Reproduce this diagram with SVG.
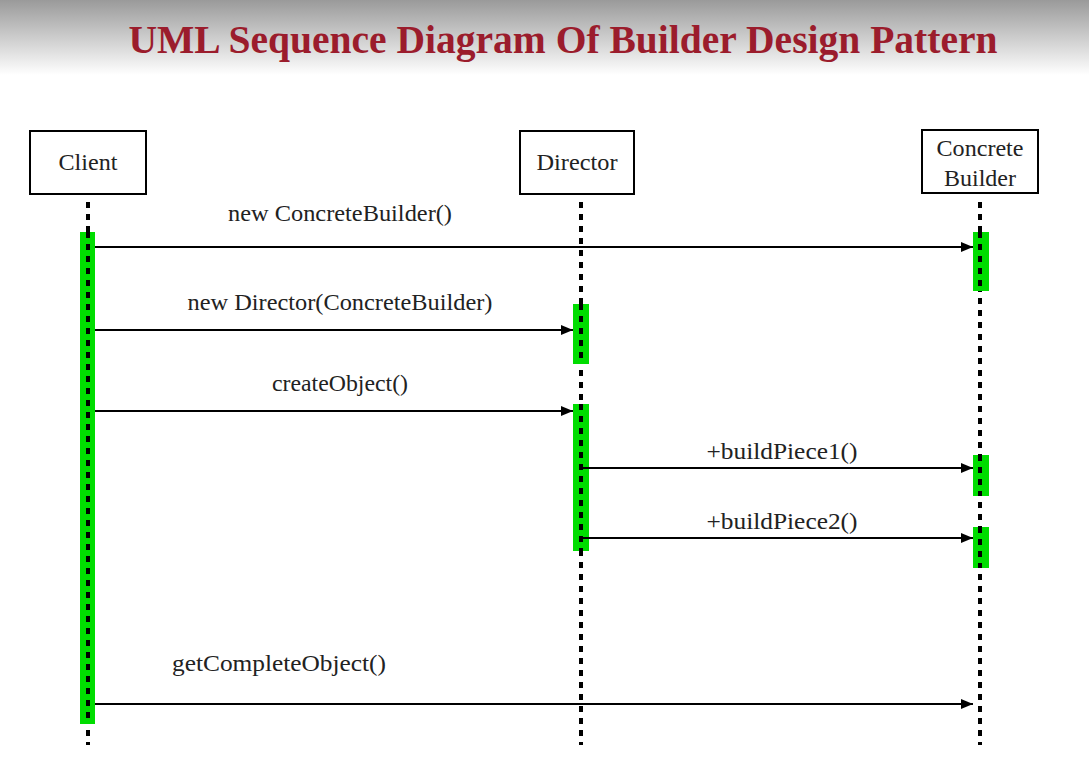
<svg xmlns="http://www.w3.org/2000/svg" width="1089" height="775" viewBox="0 0 1089 775">
<defs>
<linearGradient id="bg" x1="0" y1="0" x2="0" y2="1">
<stop offset="0" stop-color="#9a9a9a"/>
<stop offset="1" stop-color="#ffffff"/>
</linearGradient>
<marker id="arr" markerWidth="12" markerHeight="10" refX="12" refY="5" orient="auto" markerUnits="userSpaceOnUse">
<path d="M0,0 L12,5 L0,10 Z" fill="#000"/>
</marker>
<style>
.title{font-family:"Liberation Serif",serif;font-weight:bold;font-size:39px;fill:#9b1c2c}
.box{fill:#fff;stroke:#000;stroke-width:2}
.name{font-family:"Liberation Serif",serif;font-size:23px;fill:#222}
.life{stroke:#000;stroke-width:4;stroke-dasharray:6 6}
.act{fill:#00dd00}
.msg{stroke:#000;stroke-width:2;fill:none;marker-end:url(#arr)}
.lbl{font-family:"Liberation Serif",serif;font-size:23px;fill:#222;text-anchor:middle}
</style>
</defs>
<rect x="0" y="0" width="1089" height="775" fill="#fff"/>
<rect x="0" y="0" width="1089" height="75" fill="url(#bg)"/>
<text class="title" x="563" y="53" text-anchor="middle" textLength="869" lengthAdjust="spacingAndGlyphs">UML Sequence Diagram Of Builder Design Pattern</text>

<g id="client">
<rect class="box" x="30" y="131" width="116" height="63"/>
<text class="name" x="88" y="170" text-anchor="middle" textLength="59" lengthAdjust="spacingAndGlyphs">Client</text>
<line class="life" x1="88" y1="202" x2="88" y2="745"/>
<rect class="act" x="80" y="232" width="15" height="492"/>
<line class="life" x1="88" y1="232" x2="88" y2="724"/>
</g>

<g id="director">
<rect class="box" x="520" y="131" width="114" height="63"/>
<text class="name" x="577" y="170" text-anchor="middle" textLength="81" lengthAdjust="spacingAndGlyphs">Director</text>
<line class="life" x1="581" y1="202" x2="581" y2="745"/>
<rect class="act" x="573" y="304" width="16" height="60"/>
<rect class="act" x="573" y="404" width="16" height="147"/>
<line class="life" x1="581" y1="304" x2="581" y2="364"/>
<line class="life" x1="581" y1="404" x2="581" y2="551"/>
</g>

<g id="concretebuilder">
<rect class="box" x="922" y="130" width="116" height="63"/>
<text class="name" x="980" y="156" text-anchor="middle" textLength="87" lengthAdjust="spacingAndGlyphs">Concrete</text>
<text class="name" x="980" y="186" text-anchor="middle" textLength="72" lengthAdjust="spacingAndGlyphs">Builder</text>
<line class="life" x1="980" y1="202" x2="980" y2="745"/>
<rect class="act" x="973" y="232" width="16" height="59"/>
<rect class="act" x="973" y="455" width="16" height="41"/>
<rect class="act" x="973" y="527" width="16" height="41"/>
<line class="life" x1="980" y1="232" x2="980" y2="291"/>
<line class="life" x1="980" y1="455" x2="980" y2="496"/>
<line class="life" x1="980" y1="527" x2="980" y2="568"/>
</g>

<g id="connectors">
<line class="msg" x1="95" y1="247" x2="973" y2="247"/>
<text class="lbl" x="340" y="221" textLength="224" lengthAdjust="spacingAndGlyphs">new ConcreteBuilder()</text>
<line class="msg" x1="95" y1="330" x2="573" y2="330"/>
<text class="lbl" x="340" y="310" textLength="305" lengthAdjust="spacingAndGlyphs">new Director(ConcreteBuilder)</text>
<line class="msg" x1="95" y1="411" x2="573" y2="411"/>
<text class="lbl" x="340" y="391" textLength="136" lengthAdjust="spacingAndGlyphs">createObject()</text>
<line class="msg" x1="581" y1="468" x2="973" y2="468"/>
<text class="lbl" x="782" y="459" textLength="151" lengthAdjust="spacingAndGlyphs">+buildPiece1()</text>
<line class="msg" x1="581" y1="538" x2="973" y2="538"/>
<text class="lbl" x="782" y="529" textLength="151" lengthAdjust="spacingAndGlyphs">+buildPiece2()</text>
<line class="msg" x1="95" y1="704" x2="973" y2="704"/>
<text class="lbl" x="279" y="671" textLength="214" lengthAdjust="spacingAndGlyphs">getCompleteObject()</text>
</g>
</svg>
